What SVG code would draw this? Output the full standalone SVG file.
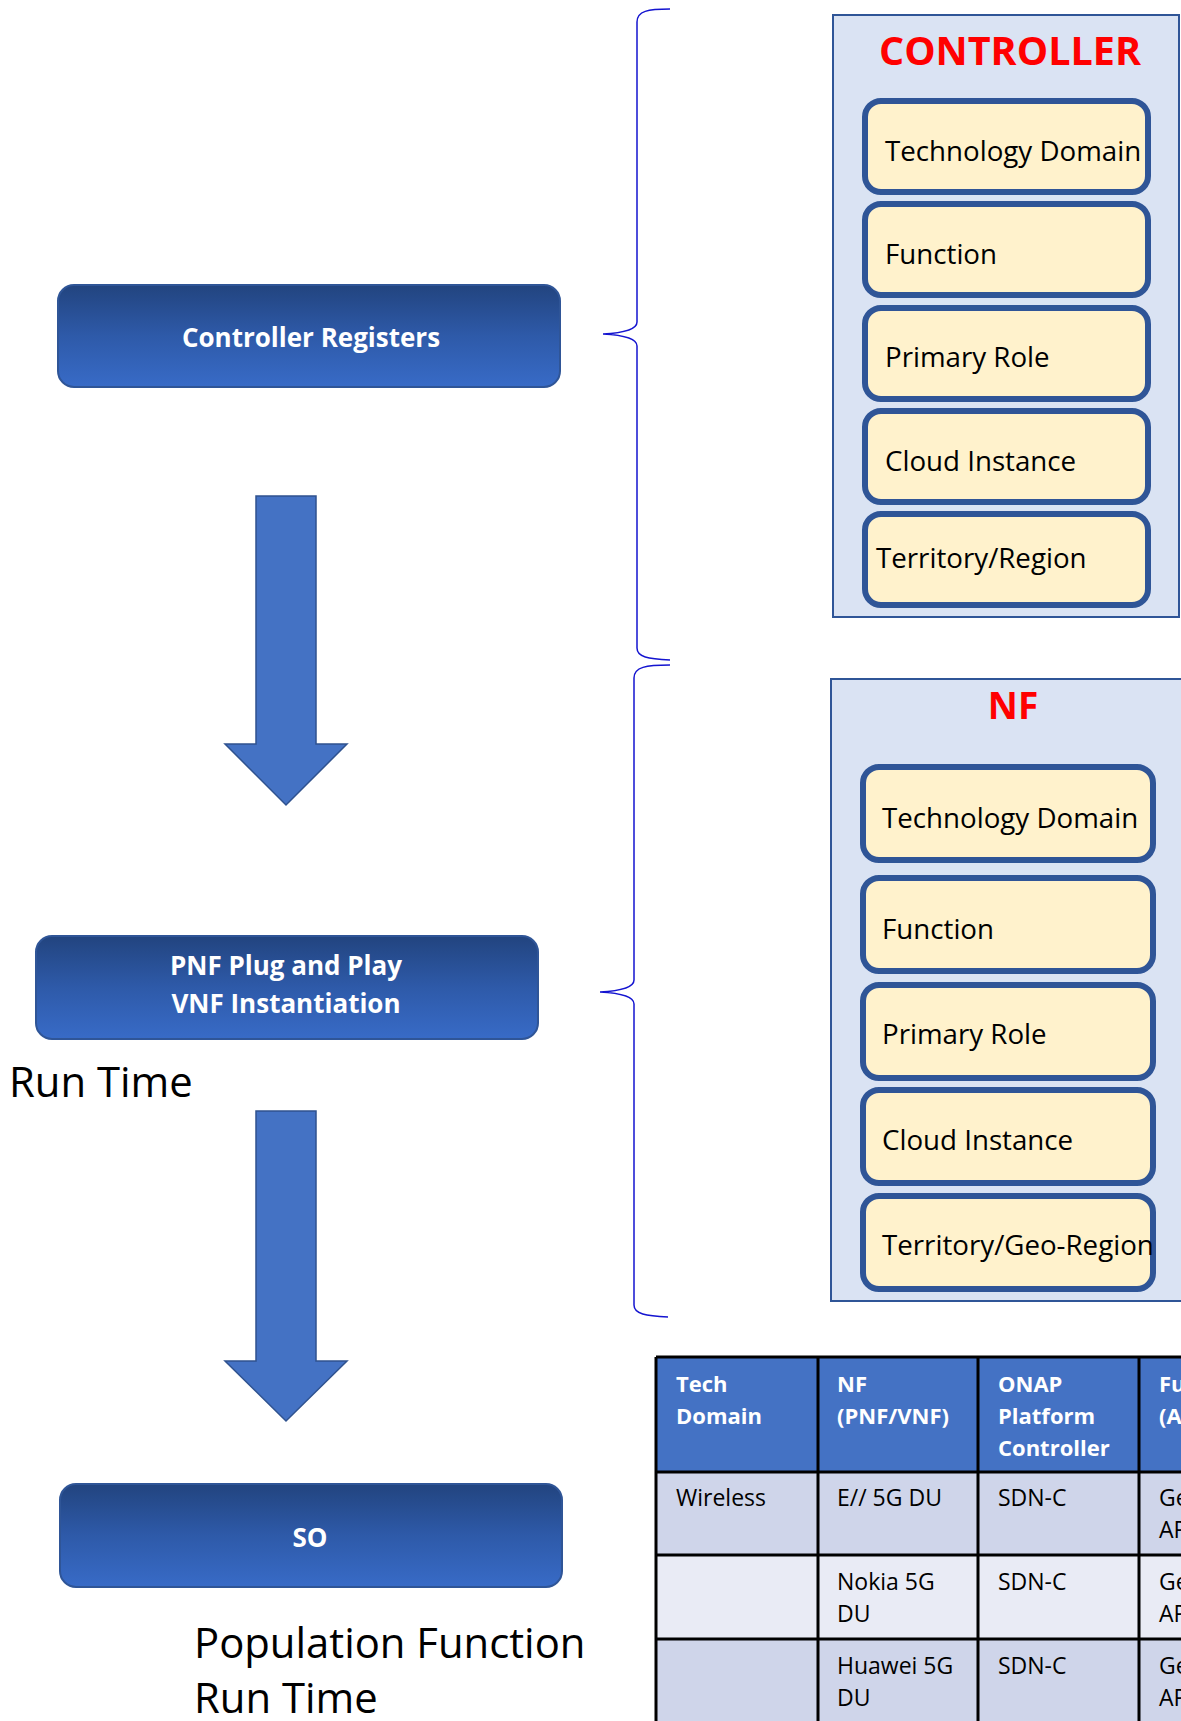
<svg xmlns="http://www.w3.org/2000/svg" width="1181" height="1721" viewBox="0 0 1181 1721">
<defs>
<linearGradient id="blueGrad" x1="0" y1="0" x2="0" y2="1">
<stop offset="0" stop-color="#22447f"/>
<stop offset="0.5" stop-color="#2e5aa9"/>
<stop offset="1" stop-color="#386bc7"/>
</linearGradient>
<style>
.bluebox{fill:url(#blueGrad);stroke:#2f5597;stroke-width:2}
.btxt{font-family:"Open Sans","Liberation Sans",sans-serif;font-weight:bold;fill:#fff;font-size:26px;text-anchor:middle}
.arrow{fill:#4472c4;stroke:#2f528f;stroke-width:1.5}
.brace{fill:none;stroke:#1414d0;stroke-width:1.5}
.container{fill:#dae3f3;stroke:#2f5597;stroke-width:2}
.title{font-family:"Open Sans","Liberation Sans",sans-serif;font-weight:bold;fill:#ff0000;text-anchor:middle}
.item{fill:#fff2cc;stroke:#2f5597;stroke-width:6}
.itxt{font-family:"Open Sans","Liberation Sans",sans-serif;font-size:27.7px;fill:#000}
.big{font-family:"Open Sans","Liberation Sans",sans-serif;font-size:41.8px;fill:#000}
.th{fill:#4472c4}
.r1{fill:#cfd5ea}
.r2{fill:#e9ebf5}
.grid{stroke:#000;stroke-width:3;fill:none}
.tht{font-family:"Open Sans","Liberation Sans",sans-serif;font-weight:bold;font-size:22px;fill:#fff}
.tdt{font-family:"Open Sans","Liberation Sans",sans-serif;font-size:23px;fill:#000}
</style>
</defs>
<rect width="1181" height="1721" fill="#fff"/>

<g id="connectors">
<path class="arrow" d="M256,496 H316 V744 H347 L286,805 L225,744 H256 Z"/>
<path class="arrow" d="M256,1111 H316 V1361 H347 L286,1421 L225,1361 H256 Z"/>
<path class="brace" d="M670,9 C648,9 637,11 637,22 L637,322 C637,330 622,333 603,334 C622,335 637,338 637,346 L637,648 C637,657 648,659 670,660"/>
<path class="brace" d="M670,665 C646,665 634,667 634,678 L634,980 C634,988 619,991 600,992 C619,993 634,996 634,1004 L634,1305 C634,1314 646,1316 668,1317"/>
</g>

<g id="controller-registers">
<rect class="bluebox" x="58" y="285" width="502" height="102" rx="16"/>
<text class="btxt" x="311" y="347">Controller Registers</text>
</g>

<g id="pnf-vnf">
<rect class="bluebox" x="36" y="936" width="502" height="103" rx="16"/>
<text class="btxt" x="286" y="975">PNF Plug and Play</text>
<text class="btxt" x="286" y="1013">VNF Instantiation</text>
</g>

<g id="run-time-label">
<text class="big" x="9" y="1097">Run Time</text>
</g>

<g id="so">
<rect class="bluebox" x="60" y="1484" width="502" height="103" rx="16"/>
<text class="btxt" x="310" y="1547">SO</text>
</g>

<g id="population-label">
<text class="big" x="194" y="1658">Population Function</text>
<text class="big" x="194" y="1713">Run Time</text>
</g>

<g id="controller">
<rect class="container" x="833" y="15" width="346" height="602"/>
<text class="title" x="1010" y="65" font-size="39.5">CONTROLLER</text>
<rect class="item" x="865" y="101" width="283" height="91" rx="16"/>
<text class="itxt" x="885" y="161">Technology Domain</text>
<rect class="item" x="865" y="204" width="283" height="91" rx="16"/>
<text class="itxt" x="885" y="264">Function</text>
<rect class="item" x="865" y="308" width="283" height="91" rx="16"/>
<text class="itxt" x="885" y="367">Primary Role</text>
<rect class="item" x="865" y="411" width="283" height="91" rx="16"/>
<text class="itxt" x="885" y="471">Cloud Instance</text>
<rect class="item" x="865" y="514" width="283" height="91" rx="16"/>
<text class="itxt" x="876" y="568">Territory/Region</text>
</g>

<g id="nf">
<rect class="container" x="831" y="679" width="360" height="622"/>
<text class="title" x="1013" y="719" font-size="37">NF</text>
<rect class="item" x="863" y="767" width="290" height="93" rx="16"/>
<text class="itxt" x="882" y="828">Technology Domain</text>
<rect class="item" x="863" y="878" width="290" height="93" rx="16"/>
<text class="itxt" x="882" y="939">Function</text>
<rect class="item" x="863" y="985" width="290" height="93" rx="16"/>
<text class="itxt" x="882" y="1044">Primary Role</text>
<rect class="item" x="863" y="1090" width="290" height="93" rx="16"/>
<text class="itxt" x="882" y="1150">Cloud Instance</text>
<rect class="item" x="863" y="1196" width="290" height="93" rx="16"/>
<text class="itxt" x="882" y="1255">Territory/Geo-Region</text>
</g>

<g id="table">
<rect class="th" x="656" y="1357" width="530" height="115"/>
<rect class="r1" x="656" y="1472" width="530" height="83"/>
<rect class="r2" x="656" y="1555" width="530" height="84"/>
<rect class="r1" x="656" y="1639" width="530" height="90"/>
<path class="grid" d="M656,1357 H1190 M656,1472 H1190 M656,1555 H1190 M656,1639 H1190 M656,1357 V1725 M818,1357 V1725 M978,1357 V1725 M1139,1357 V1725"/>
<text class="tht" x="676" y="1392">Tech</text>
<text class="tht" x="676" y="1424">Domain</text>
<text class="tht" x="837" y="1392">NF</text>
<text class="tht" x="837" y="1424">(PNF/VNF)</text>
<text class="tht" x="998" y="1392">ONAP</text>
<text class="tht" x="998" y="1424">Platform</text>
<text class="tht" x="998" y="1456">Controller</text>
<text class="tht" x="1159" y="1392">Fu</text>
<text class="tht" x="1159" y="1424">(A</text>
<text class="tdt" x="676" y="1506">Wireless</text>
<text class="tdt" x="837" y="1506">E// 5G DU</text>
<text class="tdt" x="998" y="1506">SDN-C</text>
<text class="tdt" x="1159" y="1506">Ge</text>
<text class="tdt" x="1159" y="1538">AP</text>
<text class="tdt" x="837" y="1590">Nokia 5G</text>
<text class="tdt" x="837" y="1622">DU</text>
<text class="tdt" x="998" y="1590">SDN-C</text>
<text class="tdt" x="1159" y="1590">Ge</text>
<text class="tdt" x="1159" y="1622">AP</text>
<text class="tdt" x="837" y="1674">Huawei 5G</text>
<text class="tdt" x="837" y="1706">DU</text>
<text class="tdt" x="998" y="1674">SDN-C</text>
<text class="tdt" x="1159" y="1674">Ge</text>
<text class="tdt" x="1159" y="1706">AP</text>
</g>
</svg>
